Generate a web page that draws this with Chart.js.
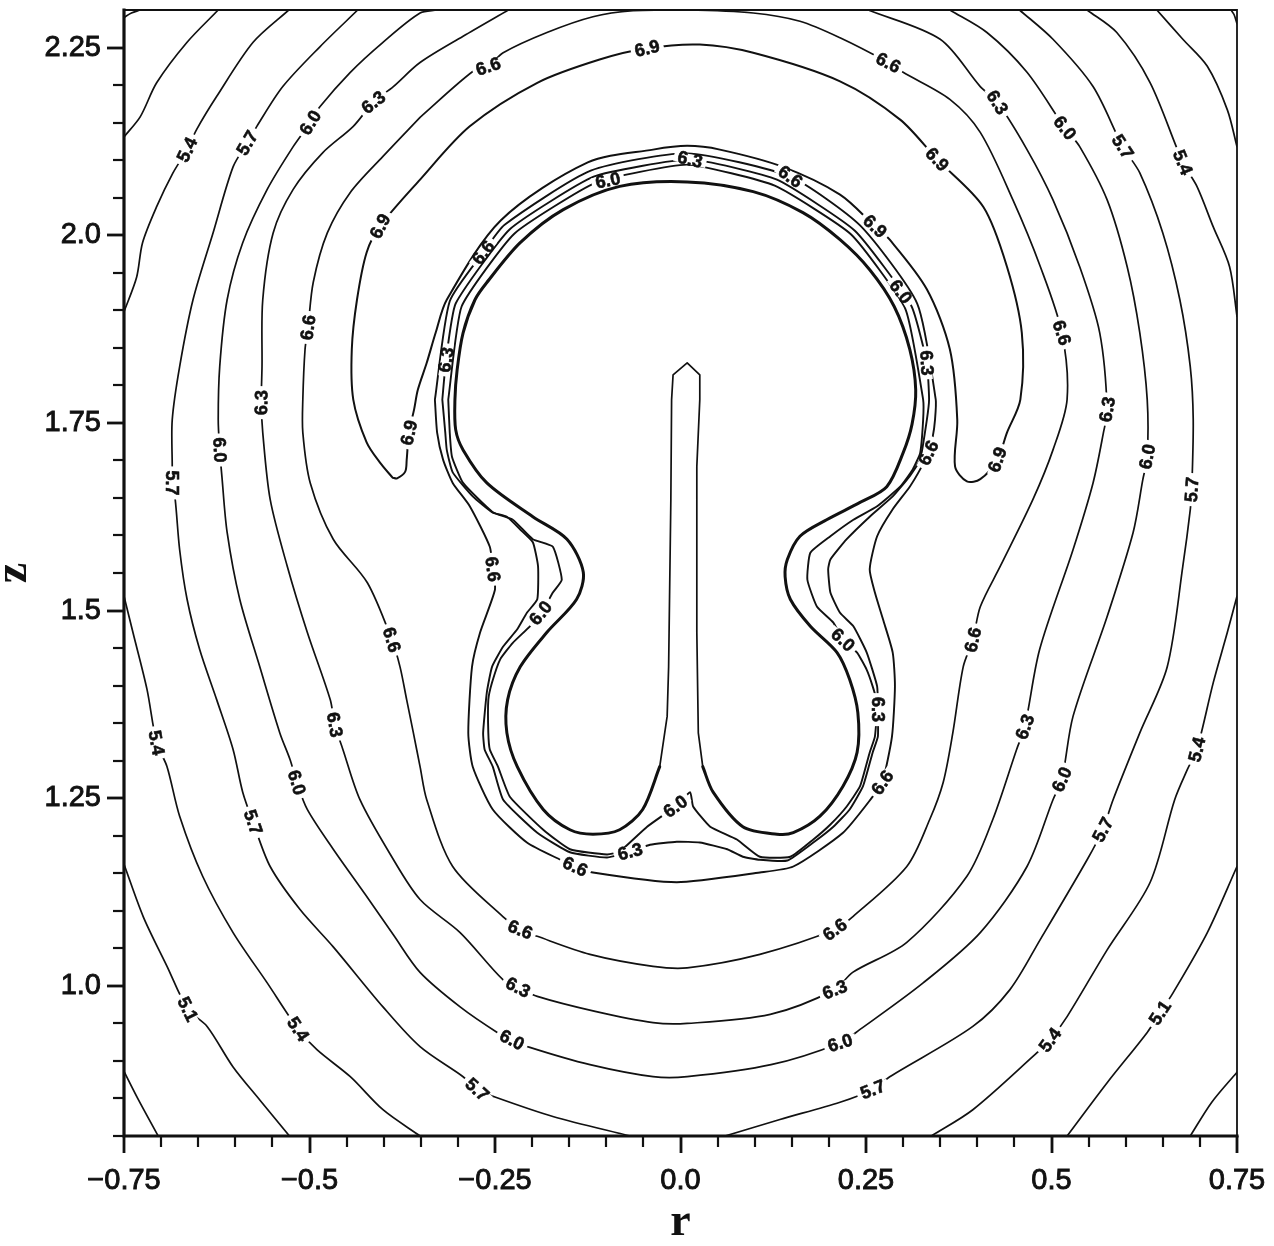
<!DOCTYPE html>
<html><head><meta charset="utf-8">
<script src="https://cdn.jsdelivr.net/npm/chart.js@4.4.0/dist/chart.umd.min.js"></script>
<style>html,body{margin:0;padding:0;background:#fff;}canvas{display:block;}</style>
</head><body>
<canvas id="c" width="1274" height="1246"></canvas>
<script>
// ---------- axes ----------
const rRange = [-0.75, 0.75];
const zRange = [0.8, 2.3];
const xTickValues = [-0.75, -0.5, -0.25, 0, 0.25, 0.5, 0.75];
const xTickLabels = ['\u22120.75', '\u22120.5', '\u22120.25', '0.0', '0.25', '0.5', '0.75'];
const yTickValues = [1.0, 1.25, 1.5, 1.75, 2.0, 2.25];
const yTickLabels = ['1.0', '1.25', '1.5', '1.75', '2.0', '2.25'];

// ---------- contour lines, [r, z] ----------
const c48a = [[-0.75,2.290],[-0.740,2.296],[-0.728,2.3]];
const c48b = [[0.742,2.3],[0.746,2.294],[0.75,2.282]];
const c48c = [[-0.75,0.886],[-0.731,0.849],[-0.704,0.8]];
const c48d = [[0.75,0.885],[0.716,0.845],[0.687,0.8]];

const c51a = [[-0.623,2.3],[-0.665,2.257],[-0.706,2.203],[-0.728,2.158],[-0.75,2.131]];
const c51b = [[0.642,2.3],[0.677,2.261],[0.710,2.225],[0.737,2.167],[0.75,2.118]];
const c51c = [[-0.75,1.162],[-0.724,1.092],[-0.692,1.026],[-0.664,0.969],[-0.638,0.946],[-0.603,0.892],[-0.567,0.848],[-0.527,0.8]];
const c51d = [[0.75,1.159],[0.710,1.071],[0.664,0.991],[0.646,0.964],[0.629,0.938],[0.575,0.871],[0.521,0.8]];

const c54a = [[-0.528,2.3],[-0.576,2.257],[-0.625,2.185],[-0.652,2.141],[-0.665,2.114],[-0.684,2.083],[-0.706,2.038],[-0.725,1.990],[-0.733,1.944],[-0.75,1.898]];
const c54b = [[0.548,2.3],[0.588,2.270],[0.633,2.203],[0.677,2.097],[0.696,2.065],[0.718,2.011],[0.740,1.958],[0.75,1.892]];
const c54c = [[-0.75,1.519],[-0.738,1.471],[-0.719,1.395],[-0.706,1.324],[-0.692,1.292],[-0.675,1.226],[-0.644,1.146],[-0.603,1.071],[-0.557,1.004],[-0.515,0.942],[-0.490,0.915],[-0.445,0.879],[-0.401,0.835],[-0.351,0.8]];
const c54d = [[0.75,1.519],[0.737,1.471],[0.718,1.404],[0.696,1.315],[0.683,1.288],[0.666,1.248],[0.633,1.138],[0.575,1.048],[0.521,0.959],[0.498,0.928],[0.475,0.906],[0.394,0.835],[0.338,0.8]];

const c57a = [[-0.435,2.3],[-0.486,2.251],[-0.536,2.198],[-0.571,2.145],[-0.584,2.123],[-0.603,2.091],[-0.630,2.003],[-0.657,1.914],[-0.675,1.825],[-0.685,1.754],[-0.685,1.692],[-0.685,1.670],[-0.681,1.648],[-0.675,1.581],[-0.665,1.515],[-0.648,1.448],[-0.625,1.381],[-0.603,1.315],[-0.590,1.258],[-0.576,1.218],[-0.553,1.159],[-0.513,1.102],[-0.468,1.052],[-0.401,0.972],[-0.351,0.919],[-0.293,0.879],[-0.274,0.862],[-0.253,0.853],[-0.172,0.826],[-0.068,0.8]];
const c57b = [[0.060,0.8],[0.134,0.822],[0.215,0.845],[0.259,0.862],[0.282,0.879],[0.394,0.946],[0.444,0.995],[0.485,1.062],[0.548,1.168],[0.569,1.208],[0.583,1.248],[0.619,1.337],[0.656,1.425],[0.677,1.559],[0.687,1.634],[0.689,1.661],[0.691,1.754],[0.687,1.825],[0.673,1.914],[0.650,2.003],[0.619,2.083],[0.596,2.118],[0.556,2.198],[0.502,2.261],[0.457,2.3]];

const c60 = [[-0.328,2.3],[-0.351,2.296],[-0.401,2.257],[-0.445,2.217],[-0.486,2.171],[-0.499,2.150],[-0.522,2.118],[-0.557,2.061],[-0.590,1.990],[-0.611,1.914],[-0.621,1.825],[-0.623,1.754],[-0.621,1.714],[-0.618,1.678],[-0.611,1.604],[-0.594,1.515],[-0.567,1.425],[-0.540,1.337],[-0.526,1.301],[-0.517,1.271],[-0.503,1.235],[-0.468,1.182],[-0.425,1.122],[-0.387,1.068],[-0.351,1.018],[-0.297,0.972],[-0.247,0.938],[-0.227,0.928],[-0.203,0.918],[-0.122,0.895],[-0.037,0.879],[0.009,0.879],[0.122,0.895],[0.215,0.924],[0.242,0.942],[0.327,1.004],[0.404,1.071],[0.467,1.159],[0.502,1.248],[0.514,1.275],[0.529,1.359],[0.575,1.492],[0.610,1.604],[0.623,1.674],[0.629,1.705],[0.629,1.781],[0.619,1.870],[0.602,1.958],[0.575,2.047],[0.538,2.118],[0.518,2.143],[0.467,2.217],[0.413,2.270],[0.363,2.3]];

const c63 = [[-0.232,2.3],[-0.293,2.265],[-0.351,2.230],[-0.387,2.198],[-0.414,2.177],[-0.441,2.145],[-0.482,2.110],[-0.522,2.061],[-0.549,2.003],[-0.563,1.914],[-0.564,1.825],[-0.565,1.777],[-0.563,1.737],[-0.553,1.648],[-0.530,1.559],[-0.503,1.471],[-0.472,1.381],[-0.466,1.348],[-0.455,1.315],[-0.432,1.248],[-0.391,1.175],[-0.351,1.115],[-0.297,1.071],[-0.239,1.008],[-0.219,0.998],[-0.193,0.986],[-0.115,0.966],[-0.037,0.951],[0.009,0.950],[0.121,0.962],[0.208,0.995],[0.232,1.018],[0.305,1.058],[0.386,1.146],[0.421,1.222],[0.453,1.315],[0.464,1.345],[0.484,1.448],[0.529,1.581],[0.556,1.670],[0.570,1.737],[0.575,1.768],[0.565,1.870],[0.538,1.958],[0.502,2.047],[0.467,2.114],[0.427,2.177],[0.404,2.198],[0.350,2.261],[0.253,2.3]];

const c66 = [[-0.351,2.157],[-0.280,2.218],[-0.259,2.225],[-0.239,2.243],[-0.180,2.270],[-0.118,2.291],[-0.064,2.299],[0.009,2.300],[0.098,2.296],[0.161,2.285],[0.215,2.263],[0.280,2.230],[0.300,2.217],[0.363,2.181],[0.404,2.137],[0.448,2.047],[0.485,1.958],[0.514,1.870],[0.521,1.781],[0.502,1.714],[0.475,1.648],[0.431,1.559],[0.404,1.505],[0.394,1.461],[0.381,1.425],[0.367,1.337],[0.354,1.271],[0.336,1.222],[0.305,1.159],[0.232,1.092],[0.208,1.075],[0.107,1.042],[0.009,1.024],[-0.037,1.026],[-0.122,1.042],[-0.193,1.066],[-0.216,1.075],[-0.239,1.092],[-0.307,1.159],[-0.342,1.248],[-0.351,1.292],[-0.360,1.337],[-0.369,1.381],[-0.378,1.425],[-0.389,1.461],[-0.422,1.537],[-0.468,1.595],[-0.499,1.670],[-0.509,1.737],[-0.509,1.781],[-0.506,1.848],[-0.502,1.877],[-0.495,1.937],[-0.476,2.003],[-0.445,2.057],[-0.401,2.105],[-0.351,2.157]];

const c69 = [[-0.388,1.677],[-0.405,1.697],[-0.423,1.724],[-0.441,1.781],[-0.443,1.848],[-0.436,1.914],[-0.423,1.977],[-0.405,2.012],[-0.351,2.074],[-0.284,2.145],[-0.193,2.203],[-0.109,2.234],[-0.045,2.249],[0.026,2.254],[0.098,2.243],[0.215,2.205],[0.296,2.154],[0.346,2.101],[0.408,2.038],[0.440,1.958],[0.460,1.870],[0.458,1.781],[0.440,1.737],[0.427,1.701],[0.404,1.675],[0.386,1.672],[0.370,1.692],[0.373,1.754],[0.363,1.848],[0.332,1.928],[0.282,1.994],[0.262,2.012],[0.215,2.054],[0.138,2.091],[0.053,2.114],[0.009,2.119],[-0.037,2.114],[-0.125,2.097],[-0.242,2.020],[-0.315,1.914],[-0.330,1.870],[-0.342,1.830],[-0.354,1.794],[-0.359,1.768],[-0.366,1.737],[-0.369,1.701],[-0.371,1.685],[-0.382,1.676],[-0.388,1.677]];

const ring60 = [[-0.313,1.781],[-0.311,1.737],[-0.308,1.705],[-0.293,1.670],[-0.253,1.631],[-0.226,1.621],[-0.199,1.595],[-0.172,1.585],[-0.160,1.541],[-0.172,1.524],[-0.185,1.501],[-0.203,1.479],[-0.226,1.457],[-0.243,1.435],[-0.254,1.404],[-0.259,1.381],[-0.259,1.337],[-0.257,1.315],[-0.246,1.292],[-0.230,1.252],[-0.185,1.208],[-0.149,1.182],[-0.099,1.175],[-0.082,1.179],[-0.045,1.212],[-0.007,1.239],[0.013,1.258],[0.017,1.239],[0.040,1.212],[0.076,1.195],[0.107,1.172],[0.148,1.172],[0.179,1.195],[0.202,1.215],[0.224,1.239],[0.242,1.266],[0.255,1.311],[0.262,1.332],[0.265,1.377],[0.259,1.399],[0.251,1.421],[0.238,1.444],[0.219,1.461],[0.206,1.484],[0.184,1.505],[0.171,1.541],[0.175,1.577],[0.202,1.599],[0.233,1.621],[0.265,1.639],[0.296,1.665],[0.313,1.688],[0.323,1.710],[0.327,1.754],[0.327,1.781],[0.303,1.902],[0.230,2.001],[0.127,2.066],[0.009,2.094],[-0.114,2.070],[-0.224,2.002],[-0.295,1.905],[-0.313,1.781]];

const ring63 = [[-0.321,1.781],[-0.317,1.737],[-0.315,1.714],[-0.307,1.684],[-0.280,1.652],[-0.254,1.631],[-0.234,1.625],[-0.216,1.608],[-0.199,1.591],[-0.192,1.559],[-0.193,1.515],[-0.207,1.497],[-0.220,1.475],[-0.239,1.452],[-0.254,1.425],[-0.261,1.391],[-0.266,1.337],[-0.264,1.315],[-0.253,1.292],[-0.239,1.248],[-0.193,1.204],[-0.149,1.178],[-0.099,1.171],[-0.068,1.179],[-0.041,1.188],[-0.005,1.192],[0.026,1.191],[0.063,1.182],[0.084,1.172],[0.107,1.168],[0.144,1.167],[0.179,1.191],[0.206,1.212],[0.228,1.235],[0.246,1.266],[0.259,1.311],[0.266,1.332],[0.266,1.368],[0.265,1.399],[0.251,1.444],[0.233,1.479],[0.215,1.497],[0.202,1.524],[0.199,1.555],[0.202,1.568],[0.224,1.595],[0.255,1.625],[0.286,1.652],[0.309,1.679],[0.323,1.701],[0.332,1.754],[0.335,1.781],[0.332,1.830],[0.311,1.906],[0.235,2.006],[0.130,2.074],[0.013,2.101],[-0.117,2.078],[-0.230,2.008],[-0.303,1.909],[-0.316,1.834],[-0.321,1.781]];

const ring66 = [[-0.331,1.781],[-0.328,1.737],[-0.320,1.701],[-0.307,1.670],[-0.284,1.639],[-0.257,1.585],[-0.253,1.555],[-0.250,1.528],[-0.270,1.471],[-0.281,1.425],[-0.286,1.337],[-0.280,1.292],[-0.253,1.235],[-0.207,1.191],[-0.162,1.168],[-0.142,1.159],[-0.118,1.151],[-0.005,1.138],[0.107,1.151],[0.152,1.159],[0.219,1.204],[0.259,1.252],[0.272,1.271],[0.285,1.332],[0.289,1.399],[0.286,1.444],[0.273,1.488],[0.262,1.524],[0.255,1.555],[0.265,1.599],[0.286,1.635],[0.309,1.665],[0.323,1.688],[0.334,1.710],[0.340,1.732],[0.343,1.754],[0.344,1.781],[0.319,1.909],[0.242,2.013],[0.148,2.078],[0.009,2.109],[-0.121,2.086],[-0.237,2.014],[-0.266,1.977],[-0.311,1.912],[-0.331,1.781]];

const bodyOutline = [[0.030,1.292],[0.044,1.258],[0.084,1.212],[0.130,1.202],[0.152,1.204],[0.188,1.226],[0.219,1.266],[0.238,1.311],[0.239,1.364],[0.228,1.408],[0.211,1.444],[0.175,1.479],[0.148,1.515],[0.141,1.545],[0.144,1.568],[0.161,1.599],[0.197,1.621],[0.242,1.644],[0.278,1.665],[0.300,1.710],[0.312,1.748],[0.317,1.794],[0.309,1.848],[0.288,1.905],[0.255,1.954],[0.215,1.994],[0.165,2.030],[0.098,2.058],[0.009,2.071],[-0.082,2.065],[-0.158,2.034],[-0.216,1.990],[-0.261,1.937],[-0.277,1.914],[-0.293,1.870],[-0.301,1.821],[-0.304,1.781],[-0.303,1.741],[-0.293,1.714],[-0.261,1.670],[-0.199,1.625],[-0.153,1.595],[-0.131,1.551],[-0.140,1.515],[-0.180,1.471],[-0.216,1.425],[-0.233,1.381],[-0.234,1.337],[-0.220,1.292],[-0.185,1.235],[-0.149,1.208],[-0.118,1.202],[-0.082,1.208],[-0.051,1.235],[-0.028,1.292]];
const stem = [[-0.028,1.292],[-0.018,1.359],[-0.016,1.425],[-0.013,1.648],[-0.012,1.781],[-0.010,1.814],[0.009,1.830],[0.026,1.814],[0.026,1.781],[0.022,1.692],[0.022,1.471],[0.024,1.337],[0.030,1.292]];

// ---------- contour labels ----------
const labelText = ['5.1','5.1','5.4','5.4','5.4','5.4','5.4','5.4',
  '5.7','5.7','5.7','5.7','5.7','5.7','5.7','5.7',
  '6.0','6.0','6.0','6.0','6.0','6.0','6.0','6.0','6.0','6.0','6.0','6.0','6.0',
  '6.3','6.3','6.3','6.3','6.3','6.3','6.3','6.3','6.3','6.3','6.3','6.3','6.3',
  '6.6','6.6','6.6','6.6','6.6','6.6','6.6','6.6','6.6','6.6','6.6','6.6','6.6','6.6',
  '6.9','6.9','6.9','6.9','6.9','6.9'];
const labelR = [-0.664,0.646,-0.665,0.677,-0.706,-0.516,0.696,0.498,
  -0.584,-0.685,-0.576,-0.274,0.259,0.569,0.689,0.596,
  -0.499,-0.621,-0.517,-0.227,0.215,0.514,0.629,0.518,-0.098,0.296,-0.189,0.219,-0.007,
  -0.414,-0.565,-0.466,-0.219,0.208,0.464,0.575,0.427,-0.316,0.013,0.332,0.266,-0.068,
  -0.259,-0.502,-0.389,-0.216,0.208,0.394,0.514,0.280,-0.266,0.148,0.334,-0.253,0.272,-0.142,
  -0.405,-0.045,0.346,0.262,0.427,-0.366];
const labelZ = [0.969,0.964,2.114,2.097,1.324,0.942,1.315,0.928,
  2.123,1.670,1.218,0.862,0.862,1.208,1.661,2.118,
  2.150,1.714,1.271,0.928,0.924,1.275,1.705,2.143,2.073,1.924,1.497,1.461,1.239,
  2.177,1.777,1.348,0.998,0.995,1.345,1.768,2.177,1.834,2.101,1.830,1.368,1.179,
  2.225,1.877,1.461,1.075,1.075,1.461,1.870,2.230,1.977,2.078,1.710,1.555,1.271,1.159,
  2.012,2.249,2.101,2.012,1.701,1.737];

// ---------- line groups (style kept apart from data) ----------
const THIN = 1.7, RING = 1.9, BODY = 3;
const lineGroups = [
  {pts:c48a,w:THIN,t:0.3},{pts:c48b,w:THIN,t:0.3},{pts:c48c,w:THIN,t:0.3},{pts:c48d,w:THIN,t:0.3},
  {pts:c51a,w:THIN,t:0.3},{pts:c51b,w:THIN,t:0.3},{pts:c51c,w:THIN,t:0.3},{pts:c51d,w:THIN,t:0.3},
  {pts:c54a,w:THIN,t:0.3},{pts:c54b,w:THIN,t:0.3},{pts:c54c,w:THIN,t:0.3},{pts:c54d,w:THIN,t:0.3},
  {pts:c57a,w:THIN,t:0.3},{pts:c57b,w:THIN,t:0.3},
  {pts:c60,w:THIN,t:0.3},{pts:c63,w:THIN,t:0.3},{pts:c66,w:THIN,t:0.3},
  {pts:c69,w:THIN+0.3,t:0.3},
  {pts:ring66,w:RING,t:0.2},{pts:ring63,w:RING,t:0.15},{pts:ring60,w:RING,t:0.15},
  {pts:bodyOutline,w:BODY,t:0.3},{pts:stem,w:THIN,t:0}
];

const INK = '#111';

const overlay = {
  id: 'overlay',
  afterDatasetsDraw(chart) {
    const {ctx, chartArea: a, scales: {x, y}} = chart;
    // contour labels along the lines
    ctx.save();
    ctx.font = 'bold 18px "Liberation Sans", Arial, sans-serif';
    ctx.textAlign = 'center';
    ctx.textBaseline = 'middle';
    ctx.lineJoin = 'round';
    labelText.forEach((t, i) => {
      const px = x.getPixelForValue(labelR[i]), py = y.getPixelForValue(labelZ[i]);
      let best = null, bd = Infinity;
      chart.data.datasets.forEach((ds, di) => {
        const pts = chart.getDatasetMeta(di).data;
        for (let k = 0; k < pts.length - 1; k++) {
          const ax = pts[k].x, ay = pts[k].y, bx = pts[k+1].x, by = pts[k+1].y;
          const dx = bx - ax, dy = by - ay, L2 = dx*dx + dy*dy;
          if (!L2) continue;
          let u = ((px-ax)*dx + (py-ay)*dy) / L2; u = Math.max(0, Math.min(1, u));
          const qx = ax + u*dx, qy = ay + u*dy, d = (qx-px)*(qx-px) + (qy-py)*(qy-py);
          if (d < bd) { bd = d; best = {qx, qy, ang: Math.atan2(dy, dx)}; }
        }
      });
      if (!best) return;
      let ang = best.ang;
      if (ang > Math.PI/2) ang -= Math.PI;
      if (ang <= -Math.PI/2) ang += Math.PI;
      ctx.save();
      ctx.translate(best.qx, best.qy);
      ctx.rotate(ang);
      const w = ctx.measureText(t).width;
      ctx.fillStyle = '#fff';
      ctx.fillRect(-w/2 - 4, -5, w + 8, 10);
      ctx.fillStyle = INK;
      ctx.strokeStyle = INK;
      ctx.lineWidth = 0.6;
      ctx.fillText(t, 0, 1);
      ctx.strokeText(t, 0, 1);
      ctx.restore();
    });
    ctx.restore();

    // frame
    ctx.save();
    ctx.strokeStyle = INK;
    ctx.lineCap = 'square';
    ctx.lineWidth = 1.8;
    ctx.beginPath();
    ctx.moveTo(a.left, a.top); ctx.lineTo(a.right, a.top); ctx.lineTo(a.right, a.bottom);
    ctx.stroke();
    ctx.lineWidth = 3.2;
    ctx.beginPath();
    ctx.moveTo(a.left, a.top); ctx.lineTo(a.left, a.bottom); ctx.lineTo(a.right, a.bottom);
    ctx.stroke();
    // ticks: majors at labelled values, minors every 0.05
    ctx.lineCap = 'butt';
    for (let k = 0; k <= 30; k++) {
      const v = rRange[0] + k * 0.05;
      const major = xTickValues.some(t => Math.abs(t - v) < 1e-6);
      const px = Math.round(x.getPixelForValue(v));
      ctx.lineWidth = major ? 2.8 : 2.2;
      ctx.beginPath(); ctx.moveTo(px, a.bottom); ctx.lineTo(px, a.bottom + (major ? 17 : 11)); ctx.stroke();
    }
    for (let k = 0; k <= 29; k++) {
      const v = zRange[0] + k * 0.05;
      const major = yTickValues.some(t => Math.abs(t - v) < 1e-6);
      const py = Math.round(y.getPixelForValue(v));
      ctx.lineWidth = major ? 2.8 : 2.2;
      ctx.beginPath(); ctx.moveTo(a.left, py); ctx.lineTo(a.left - (major ? 17 : 11), py); ctx.stroke();
    }
    ctx.restore();
  }
};

new Chart(document.getElementById('c'), {
  type: 'scatter',
  data: {
    datasets: lineGroups.map(g => ({
      data: g.pts.map(p => ({x: p[0], y: p[1]})),
      showLine: true, borderColor: INK, backgroundColor: INK, borderWidth: g.w,
      pointRadius: 0, pointHoverRadius: 0, tension: g.t, fill: false,
      borderJoinStyle: 'round', borderCapStyle: 'round'
    }))
  },
  options: {
    responsive: false, animation: false, devicePixelRatio: 1, events: [],
    layout: {padding: {top: 10, right: 37, left: 0, bottom: 0}},
    plugins: {legend: {display: false}, tooltip: {enabled: false}},
    scales: {
      x: {
        type: 'linear', min: rRange[0], max: rRange[1],
        afterFit: s => { s.height = 110; s.paddingLeft = 0; s.paddingRight = 0; s.paddingTop = 0; s.paddingBottom = 0; },
        afterBuildTicks: s => { s.ticks = xTickValues.map(v => ({value: v})); },
        grid: {display: false, drawTicks: false}, border: {display: false},
        ticks: {callback: (v, i) => xTickLabels[i], color: INK, padding: 28, maxRotation: 0, autoSkip: false,
                textStrokeColor: INK, textStrokeWidth: 0.9,
                font: {family: '"Liberation Sans", Arial, sans-serif', size: 29}},
        title: {display: true, text: 'r', color: INK, padding: {top: 0, bottom: 9},
                font: {family: '"Liberation Serif", "Times New Roman", serif', size: 46, weight: 'bold', lineHeight: 0.6}}
      },
      y: {
        type: 'linear', min: zRange[0], max: zRange[1],
        afterFit: s => { s.width = 124; s.paddingTop = 0; s.paddingBottom = 0; s.paddingLeft = 0; s.paddingRight = 0; },
        afterBuildTicks: s => { s.ticks = yTickValues.map(v => ({value: v})); },
        grid: {display: false, drawTicks: false}, border: {display: false},
        ticks: {callback: (v, i) => yTickLabels[i], color: INK, padding: 23, autoSkip: false,
                textStrokeColor: INK, textStrokeWidth: 0.9,
                font: {family: '"Liberation Sans", Arial, sans-serif', size: 29}},
        title: {display: true, text: 'z', color: INK, padding: {top: 0, bottom: 0},
                font: {family: '"Liberation Serif", "Times New Roman", serif', size: 46, weight: 'bold', lineHeight: 0.6}}
      }
    }
  },
  plugins: [overlay]
});
</script>
</body></html>
